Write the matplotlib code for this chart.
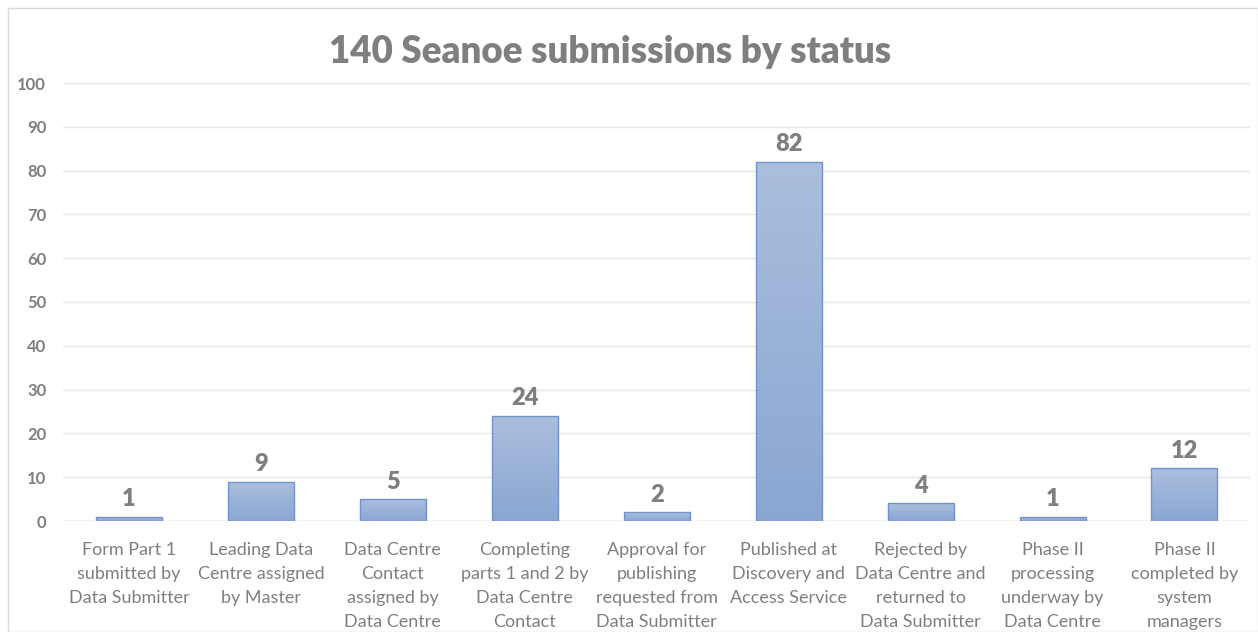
import numpy as np
import matplotlib
matplotlib.use('Agg')
import matplotlib.pyplot as plt
from matplotlib.colors import LinearSegmentedColormap
from matplotlib.patches import Rectangle

plt.rcParams['font.family'] = ['Lato', 'DejaVu Sans']

# Data
categories = [
    'Form Part 1\nsubmitted by\nData Submitter',
    'Leading Data\nCentre assigned\nby Master',
    'Data Centre\nContact\nassigned by\nData Centre',
    'Completing\nparts 1 and 2 by\nData Centre\nContact',
    'Approval for\npublishing\nrequested from\nData Submitter',
    'Published at\nDiscovery and\nAccess Service',
    'Rejected by\nData Centre and\nreturned to\nData Submitter',
    'Phase II\nprocessing\nunderway by\nData Centre',
    'Phase II\ncompleted by\nsystem\nmanagers',
]
counts = [1, 9, 5, 24, 2, 82, 4, 1, 12]
yticks = list(range(0, 101, 10))
title = '140 Seanoe submissions by status'

grey = '#7f7f7f'
fig = plt.figure(figsize=(12.58, 6.32), dpi=100)

# chart border
fig.patches.append(Rectangle((8 / 1258, 0), 1 - 8 / 1258, 1 - 8 / 632, transform=fig.transFigure,
                             fill=False, edgecolor='#d9d9d9', linewidth=1))

ax = fig.add_axes([0.05, 1 - 521 / 632, 0.944, (521 - 83) / 632])
x = np.arange(len(categories))
bars = ax.bar(x, counts, width=0.5, color='none', edgecolor='#7094c9', linewidth=1, zorder=3)

# vertical gradient fill for each bar
cmap = LinearSegmentedColormap.from_list('grad', ['#8aa6d2', '#abbedd'])
grad = np.linspace(0, 1, 256).reshape(-1, 1)
for b in bars:
    x0, w, h = b.get_x(), b.get_width(), b.get_height()
    im = ax.imshow(grad, cmap=cmap, origin='lower', aspect='auto',
                   extent=[x0, x0 + w, 0, h], zorder=2)
    im.set_clip_path(b)

for xi, v in zip(x, counts):
    ax.text(xi, v + 1.5, str(v), ha='center', va='bottom', fontsize=17,
            fontweight='heavy', color=grey)

ax.set_xlim(-0.5, len(categories) - 0.5)
ax.set_ylim(0, 100)
ax.set_yticks(yticks)
ax.set_yticklabels([str(t) for t in yticks], fontsize=12, fontweight='bold', color=grey)
ax.set_xticks(x)
ax.set_xticklabels(categories, fontsize=13, color=grey, linespacing=1.62, va='top')
ax.tick_params(axis='both', length=0)
ax.tick_params(axis='x', pad=15)
ax.tick_params(axis='y', pad=12)
ax.grid(axis='y', color='#e6e6e6', linewidth=1, zorder=0)
ax.set_axisbelow(True)
for s in ax.spines.values():
    s.set_visible(False)
ax.axhline(0, color='#d9d9d9', linewidth=1, zorder=1)

fig.text(0.485, 1 - 52 / 632, title, ha='center', va='center', fontsize=26.5,
         fontweight='heavy', color=grey)

fig.savefig('out.png', dpi=100)
